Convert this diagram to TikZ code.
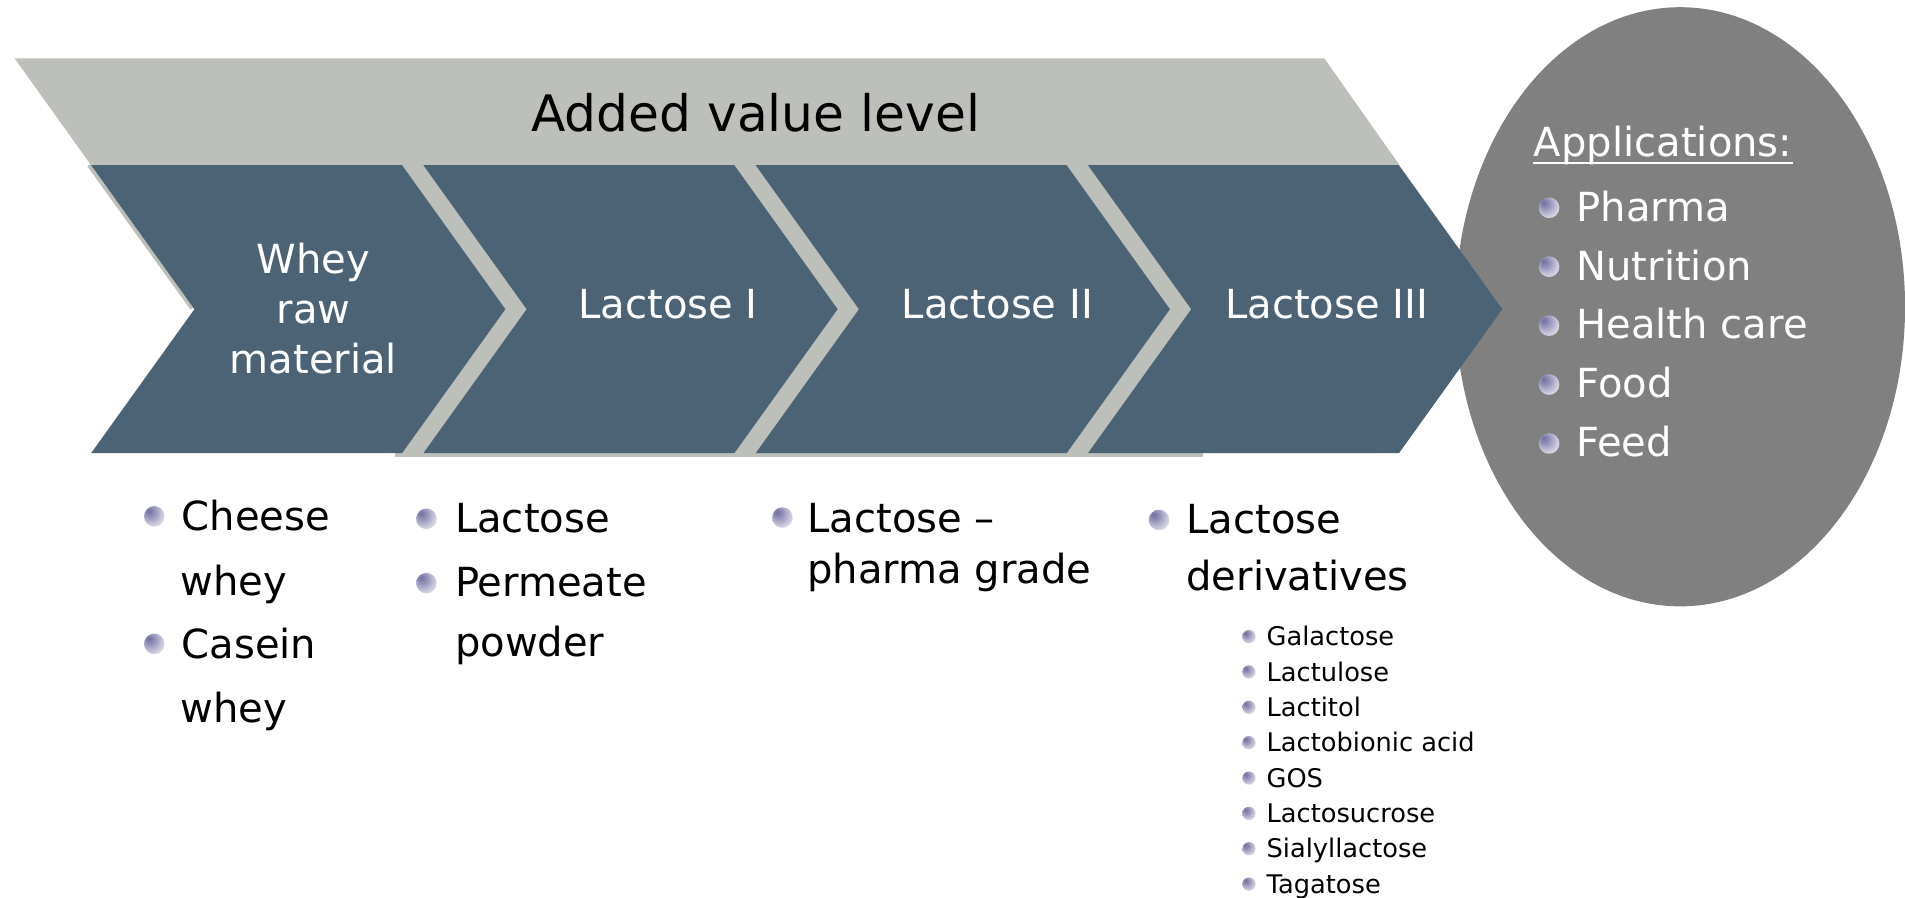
\documentclass[tikz,border=0pt]{standalone}
\usepackage{fontspec}
\setmainfont{DejaVu Sans}
\usepackage{tikz}
\usetikzlibrary{positioning,calc,shapes.geometric}

\definecolor{bannergrey}{RGB}{189,191,186}
\definecolor{slate}{RGB}{76,99,118}
\definecolor{appgrey}{RGB}{128,128,128}
\definecolor{bulletdark}{RGB}{112,110,160}

\pgfdeclareradialshading{bulletball}{\pgfpoint{-14bp}{14bp}}{color(0bp)=(bulletdark); color(12bp)=(bulletdark!75!white); color(42bp)=(white); color(60bp)=(white)}

\newcommand{\lvlfont}{\fontsize{14.3}{17}\selectfont}
\newcommand{\stepfont}{\fontsize{11.4}{14.1}\selectfont}
\newcommand{\itemfont}{\fontsize{11.4}{14}\selectfont}
\newcommand{\subitemfont}{\fontsize{7.3}{9}\selectfont}

\begin{document}
\begin{tikzpicture}[x=0.012149cm, y=-0.012149cm,
    chevtxt/.style={text=white, font=\stepfont, align=center, inner sep=0pt},
    itemtxt/.style={anchor=base west, inner sep=0pt, font=\itemfont},
    subtxt/.style={anchor=base west, inner sep=0pt, font=\subitemfont},
    apptxt/.style={anchor=base west, inner sep=0pt, font=\itemfont, text=white},
    bulletdot/.style={shading=bulletball}]
    \useasboundingbox (0,0) rectangle (1568,739);
    % banner
    \fill[bannergrey] (12,48) -- (1090,48) -- (1152,136) -- (75,136) -- cycle;
    \node[font=\lvlfont, inner sep=0pt] (lvl) at (622,93) {Added value level};
    % applications
    \node[ellipse, fill=appgrey, minimum width=4.495cm, minimum height=5.99cm, inner sep=0pt] (apps) at (1383,252.5) {};
    % chevrons
    \draw[bannergrey, line width=1pt] (73,136) -- (158,254);
    \fill[bannergrey] (325,372) rectangle (990,376);
    \foreach \x in {348.5,622,895.5}
        \fill[bannergrey] (\x-17.5,136) -- ++(256,0) -- ++(85,118.5) -- ++(-85,118.5) -- ++(-256,0) -- ++(85,-118.5) -- cycle;
    \foreach \x in {75,348.5,622,895.5}
        \fill[slate] (\x,136) -- ++(256,0) -- ++(85,118.5) -- ++(-85,118.5) -- ++(-256,0) -- ++(85,-118.5) -- cycle;
    \node[chevtxt] (whey) at (258,254) {Whey\\raw\\material};
    \node[chevtxt] (lac1) at (550,250) {Lactose I};
    \node[chevtxt] (lac2) at (821,250) {Lactose II};
    \node[chevtxt] (lac3) at (1092,250) {Lactose III};
    % applications list
    \node[apptxt] (apptitle) at (1262,129) {Applications:};
    \draw[white, line width=0.7pt] ($(apptitle.base west)+(0,5)$) -- ($(apptitle.base east)+(0,5)$);
    \foreach \txt [count=\i] in {Pharma, Nutrition, Health care, Food, Feed} {
        \shade[bulletdot] (1275,{171+48.5*(\i-1)}) circle [radius=8.5];
        \node[apptxt] (app\i) at (1297,{182+48.5*(\i-1)}) {\txt};
    }
    % products below the chevrons
    \foreach \x/\y in {127/425, 127/530, 351/427, 351/480, 644/426, 954/428}
        \shade[bulletdot] (\x,\y) circle [radius=8.5];
    \foreach \txt/\x/\y [count=\i] in {Cheese/149/437, whey/148/490, Casein/149/542, whey/148/595,
        Lactose/374/438, Permeate/374/491, powder/374/540,
        Lactose –/664/438, pharma grade/664/480, Lactose/976/439, derivatives/976/486}
        \node[itemtxt] (prod\i) at (\x,\y) {\txt};
    \foreach \txt [count=\i] in {Galactose, Lactulose, Lactitol, Lactobionic acid, GOS, Lactosucrose, Sialyllactose, Tagatose} {
        \shade[bulletdot] (1028,{524+29.1*(\i-1)}) circle [radius=5.5];
        \node[subtxt] (der\i) at (1042,{531.5+29.1*(\i-1)}) {\txt};
    }
\end{tikzpicture}
\end{document}
